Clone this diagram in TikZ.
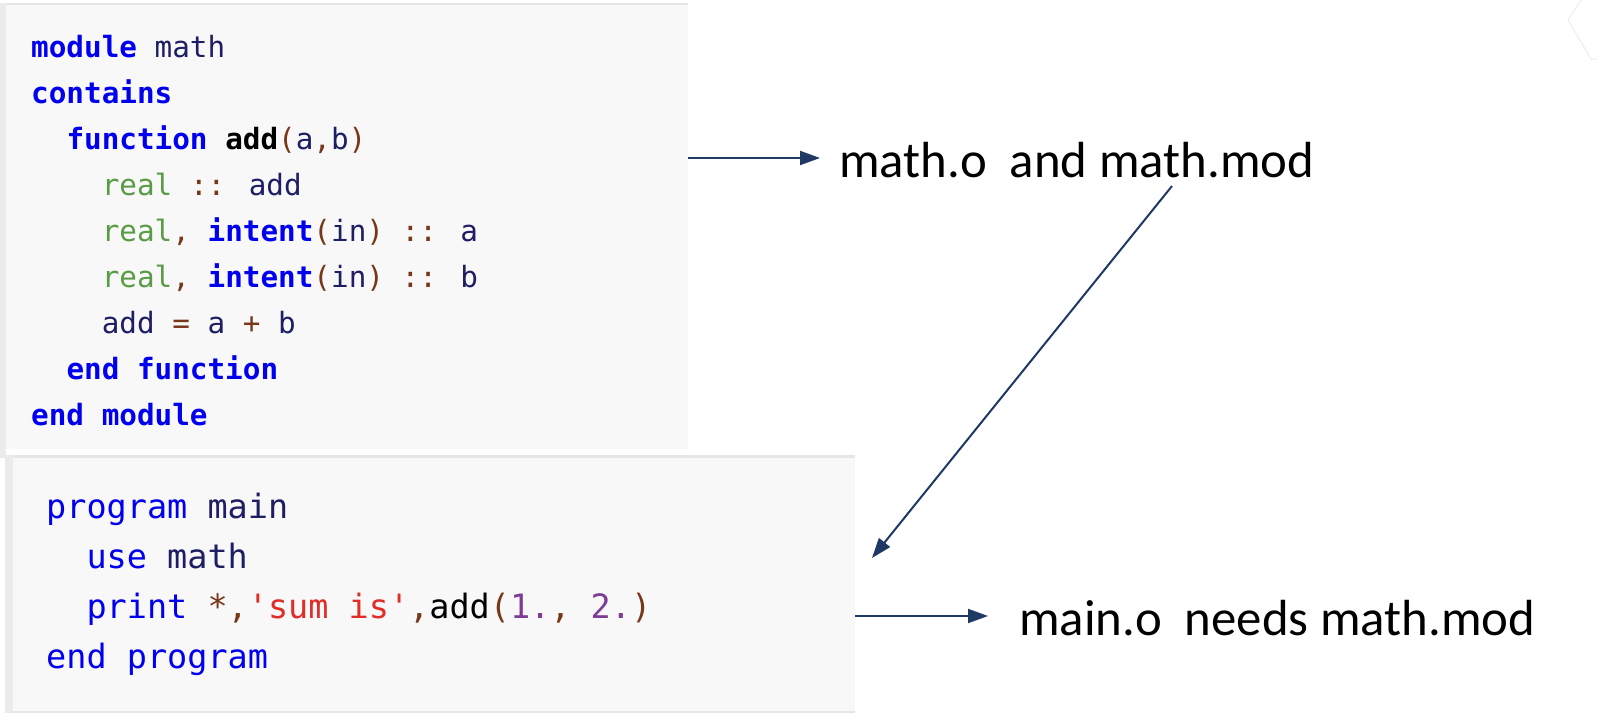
\documentclass[tikz,border=0pt]{standalone}
\usepackage{fontspec}
\setmainfont{Carlito}
\newfontfamily\codefont[Ligatures=TeXOff]{DejaVu Sans Mono}
\usetikzlibrary{arrows.meta}
\definecolor{kwc}{RGB}{0,0,238}
\definecolor{idc}{RGB}{30,30,100}
\definecolor{grc}{RGB}{90,155,70}
\definecolor{puc}{RGB}{120,55,25}
\definecolor{stc}{RGB}{225,45,40}
\definecolor{nuc}{RGB}{125,60,150}
\definecolor{codebg}{RGB}{248,248,248}
\definecolor{codeedge}{RGB}{230,230,230}
\definecolor{arrowc}{RGB}{31,56,100}
\newcommand\kwb[1]{\textcolor{kwc}{\bfseries #1}}
\newcommand\kwr[1]{\textcolor{kwc}{#1}}
\newcommand\idt[1]{\textcolor{idc}{#1}}
\newcommand\grt[1]{\textcolor{grc}{#1}}
\newcommand\pct[1]{\textcolor{puc}{#1}}
\newcommand\stt[1]{\textcolor{stc}{#1}}
\newcommand\nut[1]{\textcolor{nuc}{#1}}
\begin{document}
\begin{tikzpicture}[x=1pt,y=-1pt,
  codeA/.style={font=\codefont\fontsize{29.3}{30}\selectfont, anchor=base west, inner sep=0pt},
  codeB/.style={font=\codefont\fontsize{33.5}{35}\selectfont, anchor=base west, inner sep=0pt},
  lbl/.style={font=\fontsize{50.8}{52}\selectfont, anchor=base west, inner sep=0pt, text=black},
  boxst/.style={fill=codebg, draw=none, inner sep=0pt, anchor=north west},
  flow/.style={draw=arrowc, line width=2pt, -{Triangle[length=20pt,width=14pt]}}]
\useasboundingbox (0,0) rectangle (1598,718);
\fill[white] (0,0) rectangle (1598,718);
% faint corner artifact
\draw[draw=black!7, line width=1pt] (1581,0) -- (1568,20) -- (1591,59) -- (1598,59);
% top code box
\node[boxst, minimum width=688pt, minimum height=446pt] (boxA) at (0,3) {};
\fill[codeedge] (0,3) rectangle (688,5);
\fill[codeedge!80!white] (0,3) rectangle (6,458);
% bottom code box
\node[boxst, minimum width=850pt, minimum height=258pt] (boxB) at (5,455) {};
\fill[codeedge] (5,455) rectangle (855,458);
\fill[codeedge] (5,711) rectangle (855,713);
\fill[codeedge!80!white] (5,455) rectangle (13,713);
% top code lines
\node[codeA] (t1) at (31,57)    {\kwb{module} \idt{math}};
\node[codeA] (t2) at (31,103)   {\kwb{contains}};
\node[codeA] (t3) at (66.3,149) {\kwb{function} \textcolor{black}{\bfseries add}\pct{(}\idt{a}\pct{,}\idt{b}\pct{)}};
\node[codeA] (t4) at (101.6,195) {\grt{real} \pct{::} \idt{add}};
\node[codeA] (t5) at (101.6,241) {\grt{real}\pct{,} \kwb{intent}\pct{(}\idt{in}\pct{)} \pct{::} \idt{a}};
\node[codeA] (t6) at (101.6,287) {\grt{real}\pct{,} \kwb{intent}\pct{(}\idt{in}\pct{)} \pct{::} \idt{b}};
\node[codeA] (t7) at (101.6,333) {\idt{add} \pct{=} \idt{a} \pct{+} \idt{b}};
\node[codeA] (t8) at (66.3,379) {\kwb{end function}};
\node[codeA] (t9) at (31,425)   {\kwb{end module}};
% bottom code lines
\node[codeB] (b1) at (46,518)   {\kwr{program} \idt{main}};
\node[codeB] (b2) at (86.3,568) {\kwr{use} \idt{math}};
\node[codeB] (b3) at (86.3,618) {\kwr{print} \pct{*,}\stt{'sum is'}\pct{,}\textcolor{black}{add}\pct{(}\nut{1.}\pct{,} \nut{2.}\pct{)}};
\node[codeB] (b4) at (46,668)   {\kwr{end program}};
% labels
\node[lbl] (lab1) at (839,177)  {math.o\ \ and math.mod};
\node[lbl] (lab2) at (1019,635) {main.o\ \ needs math.mod};
% connectors
\coordinate (a2s) at (1172,186);
\coordinate (a2e) at (872,558);
\draw[flow] (boxA.east |- 0,158) -- ([xshift=-19pt]lab1.west |- 0,158);
\draw[flow] (a2s) -- (a2e);
\draw[flow] (boxB.east |- 0,616) -- ([xshift=-31pt]lab2.west |- 0,616);
\end{tikzpicture}
\end{document}
